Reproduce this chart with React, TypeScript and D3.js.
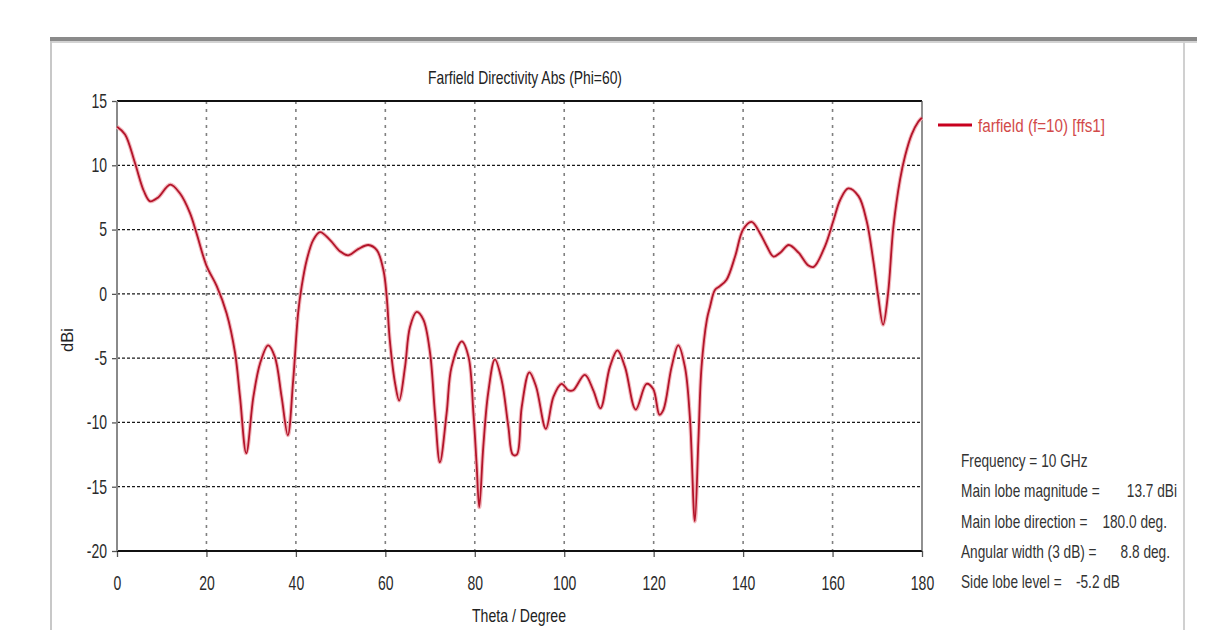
import React, { useEffect, useRef } from 'react';
import * as d3 from 'd3';

// Farfield directivity cut, Phi = 60
const theta = [
  0, 1.8, 4.0, 6.0, 7.4, 9.2, 11.9, 14.1, 16.3, 17.8, 20.0, 22.3, 24.5, 26.4, 27.5, 28.9,
  30.5, 32.0, 33.8, 35.3, 36.8, 38.2, 39.4, 40.5, 41.3, 42.4, 43.9, 45.4, 47.6, 49.9, 51.7,
  54.0, 56.2, 58.1, 59.6, 60.3, 61.0, 62.2, 63.1, 64.4, 65.5, 67.0, 68.5, 70.0, 71.1, 72.2,
  73.7, 74.8, 77.1, 78.6, 79.7, 80.4, 81.0, 81.9, 83.0, 84.5, 86.0, 87.5, 88.5, 89.4, 90.5,
  92.2, 93.7, 95.9, 97.6, 99.4, 100.9, 102.0, 104.6, 106.5, 108.1, 110.2, 111.9, 113.6,
  116.0, 118.4, 119.9, 121.3, 122.2, 124.0, 125.5, 127.0, 128.1, 129.2, 130.0, 130.7, 131.9,
  132.6, 133.7, 134.8, 136.3, 138.2, 140.0, 141.9, 143.8, 145.3, 146.8, 148.3, 150.2, 152.4,
  154.6, 155.8, 158.3, 160.2, 161.7, 163.5, 165.8, 167.6, 169.1, 170.2, 171.3, 172.4, 173.6,
  175.1, 176.2, 177.7, 179.2, 180
];
const directivity = [
  13.0, 12.4, 10.2, 8.0, 7.2, 7.5, 8.5, 7.8, 6.3, 4.7, 2.2, 0.6, -1.5, -4.6, -8.0, -12.4,
  -8.0, -5.4, -4.0, -4.9, -8.0, -11.0, -6.7, -1.5, 0.6, 2.6, 4.2, 4.8, 4.2, 3.3, 3.0,
  3.5, 3.8, 3.4, 1.8, -0.2, -3.6, -7.0, -8.3, -5.7, -2.6, -1.4, -2.0, -4.6, -9.3, -13.1,
  -9.3, -5.7, -3.7, -4.9, -9.3, -13.2, -16.6, -11.9, -7.7, -5.1, -6.7, -10.3, -12.5, -12.5, -8.8,
  -6.1, -7.2, -10.5, -8.0, -7.0, -7.5, -7.5, -6.3, -7.5, -8.9, -5.7, -4.4, -5.7,
  -9.0, -7.0, -7.4, -9.4, -9.0, -5.7, -4.0, -5.7, -9.6, -17.7, -11.4, -5.7, -2.0,
  -1.0, 0.3, 0.6, 1.1, 2.9, 5.0, 5.6, 4.7, 3.7, 2.9, 3.2, 3.8, 3.2,
  2.2, 2.1, 3.7, 5.7, 7.3, 8.2, 7.6, 5.7, 2.6, -0.2, -2.4, 0.0, 5.2,
  8.9, 10.7, 12.4, 13.4, 13.7
];

const xTicks = [0, 20, 40, 60, 80, 100, 120, 140, 160, 180];
const yTicks = [-20, -15, -10, -5, 0, 5, 10, 15];

const title = 'Farfield Directivity Abs (Phi=60)';
const xLabel = 'Theta / Degree';
const yLabel = 'dBi';
const seriesName = 'farfield (f=10) [ffs1]';
const infoLabels = [
  'Frequency = 10 GHz',
  'Main lobe magnitude =',
  'Main lobe direction =',
  'Angular width (3 dB) =',
  'Side lobe level ='
];
const infoValues = ['', '13.7 dBi', '180.0 deg.', '8.8 deg.', '-5.2 dB'];

const FONT = '"Liberation Sans", Arial, sans-serif';

const FarfieldChart = () => {
  const ref = useRef<SVGSVGElement>(null);

  useEffect(() => {
    const svg = d3.select(ref.current);
    svg.selectAll('*').remove();

    const width = 1205;
    const height = 630;
    const plot = { left: 117, right: 922, top: 101, bottom: 551 };
    const squeeze = 0.7;

    svg.attr('width', width).attr('height', height);

    svg.append('rect').attr('width', width).attr('height', height).attr('fill', '#fff');

    // window frame
    svg.append('rect').attr('x', 50).attr('y', 37).attr('width', 1147).attr('height', 4).attr('fill', '#8a8a8a');
    svg.append('line').attr('x1', 50).attr('x2', 1197).attr('y1', 42).attr('y2', 42)
      .attr('stroke', '#c4c4c4').attr('stroke-width', 1.5);
    svg.append('line').attr('x1', 51).attr('x2', 51).attr('y1', 41).attr('y2', height)
      .attr('stroke', '#c8c8c8').attr('stroke-width', 2);
    svg.append('line').attr('x1', 1184).attr('x2', 1184).attr('y1', 41).attr('y2', height)
      .attr('stroke', '#d0d0d0').attr('stroke-width', 2);

    const x = d3.scaleLinear().domain([0, 180]).range([plot.left, plot.right]);
    const y = d3.scaleLinear().domain([-20, 15]).range([plot.bottom, plot.top]);

    const g = svg.append('g');

    // Grid
    g.append('g')
      .selectAll('line')
      .data(yTicks.filter(d => d > -20 && d < 15))
      .enter()
      .append('line')
      .attr('x1', plot.left).attr('x2', plot.right)
      .attr('y1', d => y(d)).attr('y2', d => y(d))
      .attr('stroke', '#1a1a1a')
      .attr('stroke-width', 1.3)
      .attr('stroke-dasharray', '3,2');

    g.append('g')
      .selectAll('line')
      .data(xTicks.filter(d => d > 0 && d < 180))
      .enter()
      .append('line')
      .attr('x1', d => x(d)).attr('x2', d => x(d))
      .attr('y1', plot.top).attr('y2', plot.bottom)
      .attr('stroke', '#808080')
      .attr('stroke-width', 1.6)
      .attr('stroke-dasharray', '3,5');

    // Axes (plain hyphen for negatives, as in the original)
    const fmt = (d: any) => String(d);

    const xAxis = g.append('g')
      .attr('transform', `translate(0, ${plot.bottom})`)
      .call(d3.axisBottom(x).tickValues(xTicks).tickSize(6).tickPadding(19).tickFormat(fmt));
    xAxis.select('.domain').remove();
    xAxis.selectAll('line').attr('stroke', '#555').attr('stroke-width', 1.3);
    xAxis.selectAll('text')
      .attr('font-family', FONT)
      .attr('font-size', 20)
      .attr('fill', '#2a2a2a')
      .attr('transform', `scale(${squeeze},1)`);

    const yAxis = g.append('g')
      .attr('transform', `translate(${plot.left}, 0)`)
      .call(d3.axisLeft(y).tickValues(yTicks).tickSize(5).tickPadding(5).tickFormat(fmt));
    yAxis.select('.domain').remove();
    yAxis.selectAll('line').attr('stroke', '#555').attr('stroke-width', 1.3);
    yAxis.selectAll('text')
      .attr('font-family', FONT)
      .attr('font-size', 20)
      .attr('fill', '#2a2a2a')
      .attr('x', -10 / squeeze)
      .attr('transform', `scale(${squeeze},1)`);

    // Plot frame
    g.append('line').attr('x1', plot.left).attr('x2', plot.right).attr('y1', plot.top).attr('y2', plot.top)
      .attr('stroke', '#111').attr('stroke-width', 2);
    g.append('line').attr('x1', plot.left).attr('x2', plot.right).attr('y1', plot.bottom).attr('y2', plot.bottom)
      .attr('stroke', '#111').attr('stroke-width', 2);
    g.append('line').attr('x1', plot.left).attr('x2', plot.left).attr('y1', plot.top).attr('y2', plot.bottom)
      .attr('stroke', '#8a8a8a').attr('stroke-width', 2);
    g.append('line').attr('x1', plot.right).attr('x2', plot.right).attr('y1', plot.top).attr('y2', plot.bottom)
      .attr('stroke', '#555').attr('stroke-width', 1.3);

    // Curve
    const points = theta.map((t, i) => ({ t, v: directivity[i] }));
    const line = d3.line<{ t: number; v: number }>()
      .x(d => x(d.t))
      .y(d => y(d.v))
      .curve(d3.curveCatmullRom.alpha(0.5));

    g.append('path')
      .datum(points)
      .attr('fill', 'none')
      .attr('stroke', '#f2b8bd')
      .attr('stroke-width', 4)
      .attr('d', line);
    g.append('path')
      .datum(points)
      .attr('fill', 'none')
      .attr('stroke', '#b3142a')
      .attr('stroke-width', 1.8)
      .attr('d', line);

    // Title & labels
    svg.append('text')
      .attr('x', 525).attr('y', 84)
      .attr('text-anchor', 'middle')
      .attr('font-family', FONT).attr('font-size', 19)
      .attr('fill', '#222')
      .attr('textLength', 194).attr('lengthAdjust', 'spacingAndGlyphs')
      .text(title);

    svg.append('text')
      .attr('x', 519).attr('y', 622)
      .attr('text-anchor', 'middle')
      .attr('font-family', FONT).attr('font-size', 19)
      .attr('fill', '#222')
      .attr('textLength', 94).attr('lengthAdjust', 'spacingAndGlyphs')
      .text(xLabel);

    svg.append('text')
      .attr('transform', 'translate(73, 340) rotate(-90)')
      .attr('text-anchor', 'middle')
      .attr('font-family', FONT).attr('font-size', 17)
      .attr('fill', '#222')
      .attr('textLength', 24).attr('lengthAdjust', 'spacingAndGlyphs')
      .text(yLabel);

    // Legend
    svg.append('line')
      .attr('x1', 938).attr('x2', 972).attr('y1', 125).attr('y2', 125)
      .attr('stroke', '#c8001e').attr('stroke-width', 3);
    svg.append('text')
      .attr('x', 978).attr('y', 132)
      .attr('font-family', FONT).attr('font-size', 18)
      .attr('fill', '#d24a4a')
      .attr('textLength', 127).attr('lengthAdjust', 'spacingAndGlyphs')
      .text(seriesName);

    // Result summary: labels left-aligned, values right-aligned, narrowed like the original font
    const infoSqueeze = 0.76;
    const valueRight = [0, 1177, 1167, 1170, 1120];
    const rowY = (i: number) => 467 + i * 30.3;
    const info = svg.append('g')
      .attr('font-family', FONT)
      .attr('font-size', 18)
      .attr('fill', '#333');

    info.selectAll('text.lbl')
      .data(infoLabels)
      .enter()
      .append('text')
      .attr('class', 'lbl')
      .attr('transform', (d, i) => `translate(961, ${rowY(i)}) scale(${infoSqueeze},1)`)
      .text(d => d);

    info.selectAll('text.val')
      .data(infoValues.map((v, i) => ({ v, i })).filter(d => d.v !== ''))
      .enter()
      .append('text')
      .attr('class', 'val')
      .attr('text-anchor', 'end')
      .attr('transform', d => `translate(${valueRight[d.i]}, ${rowY(d.i)}) scale(${infoSqueeze},1)`)
      .text(d => d.v);
  }, []);

  return <svg ref={ref} style={{ position: 'absolute', left: 0, top: 0, display: 'block' }}></svg>;
};

export default function App() {
  return <FarfieldChart />;
}
